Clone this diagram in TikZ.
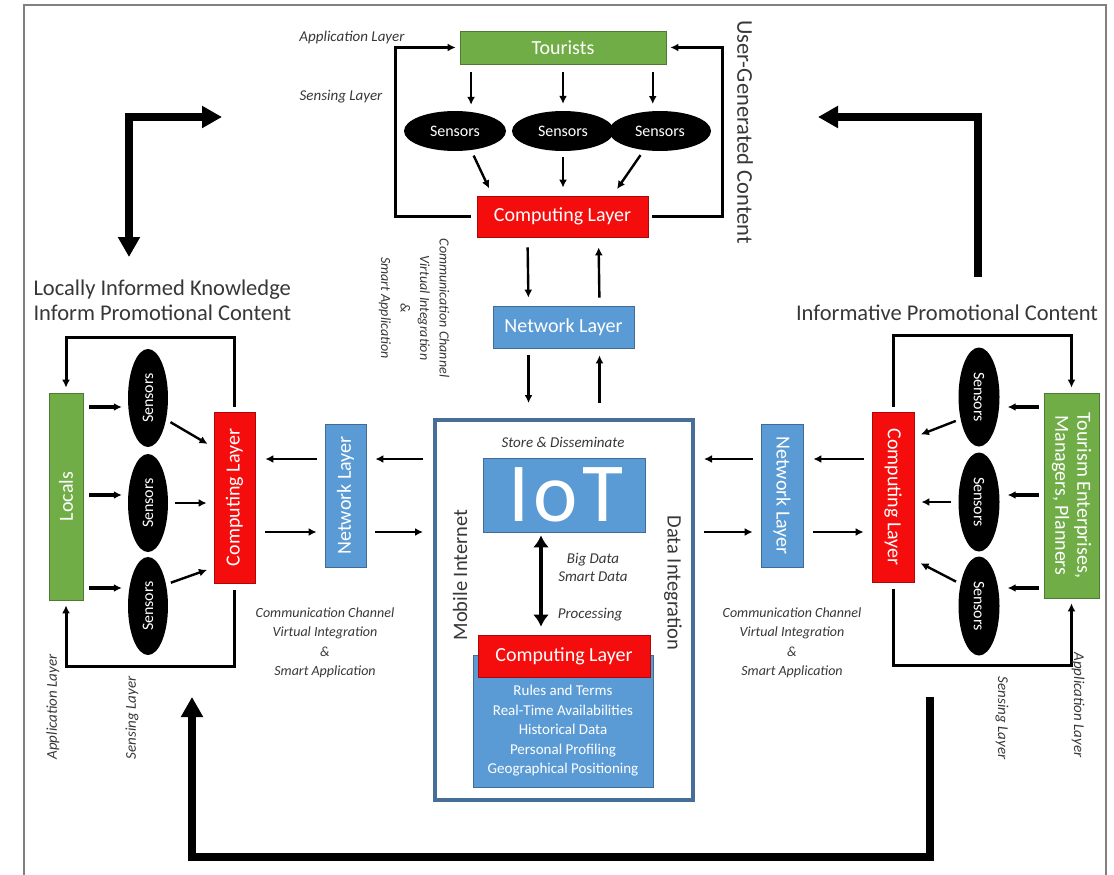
\documentclass[tikz,border=0pt]{standalone}
\usepackage{fontspec}
\setmainfont{Carlito}
\usetikzlibrary{arrows.meta,calc,positioning,shapes.geometric}
\definecolor{layergreen}{RGB}{112,173,71}
\definecolor{layerblue}{RGB}{91,155,213}
\definecolor{layerred}{RGB}{245,12,12}
\definecolor{iotedge}{RGB}{70,110,150}
\definecolor{headgray}{RGB}{55,55,55}

\begin{document}
\begin{tikzpicture}[x=1pt,y=-1pt,>={Latex[length=8pt,width=8pt]},
  layerbox/.style={draw=#1!70!black,line width=0.8pt,fill=#1,text=white,inner sep=0pt,
    font=\fontsize{20}{24}\selectfont,align=center},
  sensornode/.style={ellipse,fill=black,text=white,inner sep=0pt,font=\fontsize{16}{18}\selectfont},
  boxtext/.style={text=white,font=\fontsize{20}{22}\selectfont,align=center},
  sensortext/.style={text=white,font=\fontsize{16}{18}\selectfont},
  tag/.style={font=\itshape\fontsize{15}{18}\selectfont,text=headgray},
  channel/.style={font=\itshape\fontsize{14}{19.5}\selectfont,align=center,text=headgray},
  heading/.style={font=\fontsize{22.5}{25}\selectfont,text=headgray},
  flow/.style={->,line width=2.4pt},
  flowthick/.style={->,line width=3.4pt},
  feedback/.style={->,line width=3pt},
  bigflow/.style={line width=7.5pt,>={Triangle[length=20pt,width=21pt]}}]
  \useasboundingbox (0,0) rectangle (1114,875);
  \draw[gray,line width=1.5pt] (24,875) -- (24,5) -- (1106,5) -- (1106,875);

  \node[layerbox=layergreen,minimum width=206pt,minimum height=33pt] (tour) at (563,47.5) {Tourists};
  \foreach \n/\x in {1/455,2/563,3/660}
    \node[sensornode,minimum width=102pt,minimum height=40pt] (ts\n) at (\x,131) {Sensors};
  \node[layerbox=layerred,minimum width=171pt,minimum height=41pt] (tcomp) at (562.5,216.5) {Computing Layer};
  \node[layerbox=layerblue,minimum width=141pt,minimum height=42pt] (tnet) at (563.5,327) {Network Layer};

  \node[draw=iotedge,line width=4pt,minimum width=258pt,minimum height=380pt,inner sep=0pt] (iotbox) at (564,610) {};
  \node[layerbox=layerblue,minimum width=162pt,minimum height=74pt,
    font=\fontsize{84}{84}\selectfont\addfontfeatures{LetterSpace=5}] (iot) at (564,495) {IoT\kern-4pt};
  \node[layerbox=layerblue,minimum width=180pt,minimum height=132pt] (cdata) at (563,721) {};
  \node[layerbox=layerred,minimum width=172pt,minimum height=42pt] (ccomp) at (564,656) {Computing Layer};
  \node[text=white,font=\fontsize{15}{19.5}\selectfont,align=center] (clist) at (563,731)
    {Rules and Terms\\Real-Time Availabilities\\Historical Data\\Personal Profiling\\Geographical Positioning};

  \node[layerbox=layergreen,minimum width=34pt,minimum height=207pt,
    label={[boxtext,rotate=90]center:Locals}] (locals) at (66,496.5) {};
  \foreach \n/\y in {1/398,2/503,3/606}
    \node[sensornode,minimum width=40pt,minimum height=98pt,
      label={[sensortext,rotate=90]center:Sensors}] (ls\n) at (148,\y) {};
  \node[layerbox=layerred,minimum width=41pt,minimum height=171pt,
    label={[boxtext,rotate=90]center:Computing Layer}] (lcomp) at (234.5,497.5) {};
  \node[layerbox=layerblue,minimum width=41pt,minimum height=143pt,
    label={[boxtext,rotate=90]center:Network Layer}] (lnet) at (345.5,495.5) {};

  \node[layerbox=layergreen,minimum width=55pt,minimum height=205pt,
    label={[boxtext,rotate=-90]center:Tourism Enterprises,\\Managers, Planners}] (tourism) at (1071.5,495.5) {};
  \foreach \n/\y in {1/397,2/502,3/606}
    \node[sensornode,minimum width=41pt,minimum height=99pt,
      label={[sensortext,rotate=-90]center:Sensors}] (rs\n) at (979,\y) {};
  \node[layerbox=layerred,minimum width=42pt,minimum height=170pt,
    label={[boxtext,rotate=-90]center:Computing Layer}] (rcomp) at (893,497) {};
  \node[layerbox=layerblue,minimum width=42pt,minimum height=143pt,
    label={[boxtext,rotate=-90]center:Network Layer}] (rnet) at (782,495.5) {};

  \coordinate (rowa) at (0,459);
  \coordinate (rowb) at (0,532);
  \coordinate (tleft) at (395,47.5);
  \coordinate (tright) at (722,47.5);
  \coordinate (ltop) at (150,337);
  \coordinate (lbot) at (150,666);
  \coordinate (rtop) at (980,335);
  \coordinate (rbot) at (980,665);

  \draw[flow,shorten <=8pt,shorten >=7pt] (tour.south -| ts1.50) -- (ts1.50);
  \draw[flow,shorten <=8pt,shorten >=7pt] (tour.south -| ts2.north) -- (ts2.north);
  \draw[flow,shorten <=8pt,shorten >=7pt] (tour.south -| ts3.110) -- (ts3.110);
  \draw[flow,shorten <=6pt,shorten >=8pt] (ts1.-50) -- ([xshift=-70pt]tcomp.north);
  \draw[flow,shorten <=6pt,shorten >=8pt] (ts2.south) -- (tcomp.north -| ts2.south);
  \draw[flow,shorten <=6pt,shorten >=8pt] (ts3.-130) -- ([xshift=50pt]tcomp.north);
  \draw[feedback,shorten <=6pt,shorten >=4pt] (tcomp.west) -| (tleft) -- (tour.west);
  \draw[feedback,shorten <=4pt,shorten >=4pt] (tcomp.east) -| (tright) -- (tour.east);

  \draw[flow,shorten <=10pt,shorten >=8pt] ([xshift=-35pt]tcomp.south) -- ([xshift=-35pt]tnet.north);
  \draw[flow,shorten <=8pt,shorten >=10pt] ([xshift=36pt]tnet.north) -- ([xshift=36pt]tcomp.south);
  \draw[flow,shorten <=7pt,shorten >=15pt] ([xshift=-35pt]tnet.south) -- ([xshift=-35pt]tnet.south |- iotbox.north);
  \draw[flow,shorten <=15pt,shorten >=7pt] ([xshift=36pt]tnet.south |- iotbox.north) -- ([xshift=36pt]tnet.south);
  \draw[line width=4.5pt,{Latex[length=12pt,width=16pt]}-{Latex[length=12pt,width=16pt]},
    shorten <=3pt,shorten >=8pt] ([xshift=-23pt]iot.south) -- ([xshift=-23pt]ccomp.north);

  \draw[flow,shorten <=10pt,shorten >=9pt] (iotbox.west |- rowa) -- (lnet.east |- rowa);
  \draw[flow,shorten <=9pt,shorten >=10pt] (lnet.east |- rowb) -- (iotbox.west |- rowb);
  \draw[flow,shorten <=8pt,shorten >=10pt] (lnet.west |- rowa) -- (lcomp.east |- rowa);
  \draw[flow,shorten <=10pt,shorten >=8pt] (lcomp.east |- rowb) -- (lnet.west |- rowb);
  \draw[flow,shorten <=8pt,shorten >=9pt] (rnet.west |- rowa) -- (iotbox.east |- rowa);
  \draw[flow,shorten <=9pt,shorten >=8pt] (iotbox.east |- rowb) -- (rnet.west |- rowb);
  \draw[flow,shorten <=8pt,shorten >=10pt] (rcomp.west |- rowa) -- (rnet.east |- rowa);
  \draw[flow,shorten <=10pt,shorten >=8pt] (rnet.east |- rowb) -- (rcomp.west |- rowb);

  \foreach \n/\dy in {1/-9,2/8,3/18}
    \draw[flowthick,shorten <=6pt,shorten >=6pt] ([yshift=\dy pt]ls\n.west -| locals.east) -- ([yshift=\dy pt]ls\n.west);
  \draw[flow,shorten <=5pt,shorten >=7pt] (ls1.-50) -- ([yshift=50pt]lcomp.west);
  \draw[flow,shorten <=7pt,shorten >=7pt] (ls2.east) -- (ls2.east -| lcomp.west);
  \draw[flow,shorten <=5pt,shorten >=7pt] (ls3.50) -- ([yshift=-70pt]lcomp.west);
  \draw[feedback,shorten <=5pt,shorten >=5pt] (lcomp.north) |- (ltop) -| (locals.north);
  \draw[feedback,shorten <=7pt,shorten >=5pt] (lcomp.south) |- (lbot) -| (locals.south);

  \foreach \n/\dy in {1/-10,2/7,3/18}
    \draw[flowthick,shorten <=5pt,shorten >=8pt] ([yshift=\dy pt]rs\n.east -| tourism.west) -- ([yshift=\dy pt]rs\n.east);
  \draw[flow,shorten <=5pt,shorten >=7pt] (rs1.-130) -- ([yshift=60pt]rcomp.east);
  \draw[flow,shorten <=7pt,shorten >=7pt] (rs2.west) -- (rs2.west -| rcomp.east);
  \draw[flow,shorten <=5pt,shorten >=7pt] (rs3.130) -- ([yshift=-63pt]rcomp.east);
  \draw[feedback,shorten <=5pt,shorten >=5pt] (rcomp.north) |- (rtop) -| (tourism.north);
  \draw[feedback,shorten <=7pt,shorten >=5pt] (rcomp.south) |- (rbot) -| (tourism.south);

  \coordinate (bigA1) at (129,257);
  \coordinate (bigA2) at (222,117);
  \coordinate (bigB1) at (978,277);
  \coordinate (bigB2) at (818,117);
  \coordinate (bigC1) at (930,697);
  \coordinate (bigC2) at (192,857);
  \coordinate (bigC3) at (192,697);
  \draw[bigflow,<->] (bigA1) |- (bigA2);
  \draw[bigflow,->] (bigB1) |- (bigB2);
  \draw[bigflow,->] (bigC1) |- (bigC2) -- (bigC3);

  \node[tag] (tapp) at (352,38) {Application Layer};
  \node[tag] (tsen) at (341,97) {Sensing Layer};
  \node[heading,rotate=-90] (ugc) at (745,132) {User-Generated Content};
  \node[channel,rotate=-90] (tchan) at (414,308) {Communication Channel\\Virtual Integration\\\&\\Smart Application};
  \node[heading,align=left,anchor=west] (lhead) at (30,300) {Locally Informed Knowledge\\Inform Promotional Content};
  \node[heading] (rhead) at (947,313) {Informative Promotional Content};
  \node[channel] (lchan) at (325,643) {Communication Channel\\Virtual Integration\\\&\\Smart Application};
  \node[channel] (rchan) at (792,643) {Communication Channel\\Virtual Integration\\\&\\Smart Application};
  \node[tag,rotate=90] (lapp) at (53,707) {Application Layer};
  \node[tag,rotate=90] (lsen) at (132,718) {Sensing Layer};
  \node[tag,rotate=-90] (rsen) at (1002,718) {Sensing Layer};
  \node[tag,rotate=-90] (rapp) at (1078,705) {Application Layer};
  \node[tag] (store) at (563,442) {Store \& Disseminate};
  \node[tag,align=center] (bigdata) at (593,567) {Big Data\\Smart Data};
  \node[tag] (proc) at (590,615) {Processing};
  \node[heading,font=\fontsize{20.5}{24}\selectfont,rotate=90] (mobile) at (460,575) {Mobile Internet};
  \node[heading,font=\fontsize{20.5}{24}\selectfont,rotate=-90] (dataint) at (673,583) {Data Integration};
\end{tikzpicture}
\end{document}
